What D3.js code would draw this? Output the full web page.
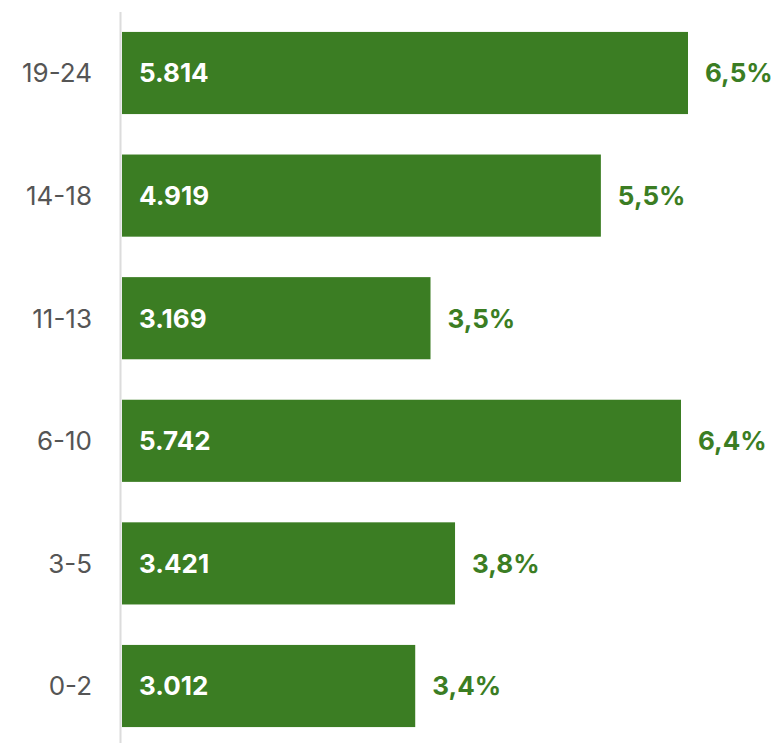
<!DOCTYPE html>
<html>
<head>
<meta charset="utf-8">
<script src="https://cdn.jsdelivr.net/npm/d3@7"></script>
<style>
  body { margin: 0; background: #fff; }
  text { font-family: Inter, "Liberation Sans", Arial, sans-serif; }
</style>
</head>
<body>
<div id="chart"></div>
<script>
// data
var categories = ["19-24", "14-18", "11-13", "6-10", "3-5", "0-2"];
var values = [5814, 4919, 3169, 5742, 3421, 3012];
var valueLabels = ["5.814", "4.919", "3.169", "5.742", "3.421", "3.012"];
var percentLabels = ["6,5%", "5,5%", "3,5%", "6,4%", "3,8%", "3,4%"];

var data = categories.map(function(c, i) {
    return {cat: c, value: values[i], label: valueLabels[i], pct: percentLabels[i]};
});

var width = 774, height = 743;
var margin = {top: 12, right: 0, bottom: 0, left: 122};
var green = "#3b7d23";

var svg = d3.select("#chart").append("svg")
    .attr("width", width)
    .attr("height", height);

var x = d3.scaleLinear()
    .domain([0, 5814])
    .range([margin.left, 688]);

var y = d3.scaleBand()
    .domain(categories)
    .range([11.7, 747.3])
    .paddingInner(0.33)
    .paddingOuter(0.165);

// axis line
svg.append("line")
    .attr("x1", 120.5).attr("x2", 120.5)
    .attr("y1", 12).attr("y2", height)
    .attr("stroke", "#dcdcdc")
    .attr("stroke-width", 2);

// bars
svg.selectAll(".bar")
    .data(data)
    .enter().append("rect")
    .attr("class", "bar")
    .attr("x", x(0))
    .attr("y", function(d) { return y(d.cat); })
    .attr("width", function(d) { return x(d.value) - x(0); })
    .attr("height", y.bandwidth())
    .attr("fill", green);

// category labels
svg.selectAll(".cat")
    .data(data)
    .enter().append("text")
    .attr("class", "cat")
    .attr("x", 92)
    .attr("y", function(d) { return y(d.cat) + y.bandwidth() / 2; })
    .attr("dy", "0.36em")
    .attr("text-anchor", "end")
    .attr("font-size", "26px")
    .attr("fill", "#555")
    .text(function(d) { return d.cat; });

// values inside bars
svg.selectAll(".val")
    .data(data)
    .enter().append("text")
    .attr("class", "val")
    .attr("x", x(0) + 17)
    .attr("y", function(d) { return y(d.cat) + y.bandwidth() / 2; })
    .attr("dy", "0.36em")
    .attr("font-size", "26px")
    .attr("font-weight", "bold")
    .attr("fill", "#fff")
    .text(function(d) { return d.label; });

// percentages after bars
svg.selectAll(".pct")
    .data(data)
    .enter().append("text")
    .attr("class", "pct")
    .attr("x", function(d) { return x(d.value) + 17; })
    .attr("y", function(d) { return y(d.cat) + y.bandwidth() / 2; })
    .attr("dy", "0.36em")
    .attr("font-size", "26px")
    .attr("font-weight", "bold")
    .attr("fill", green)
    .text(function(d) { return d.pct; });
</script>
</body>
</html>
